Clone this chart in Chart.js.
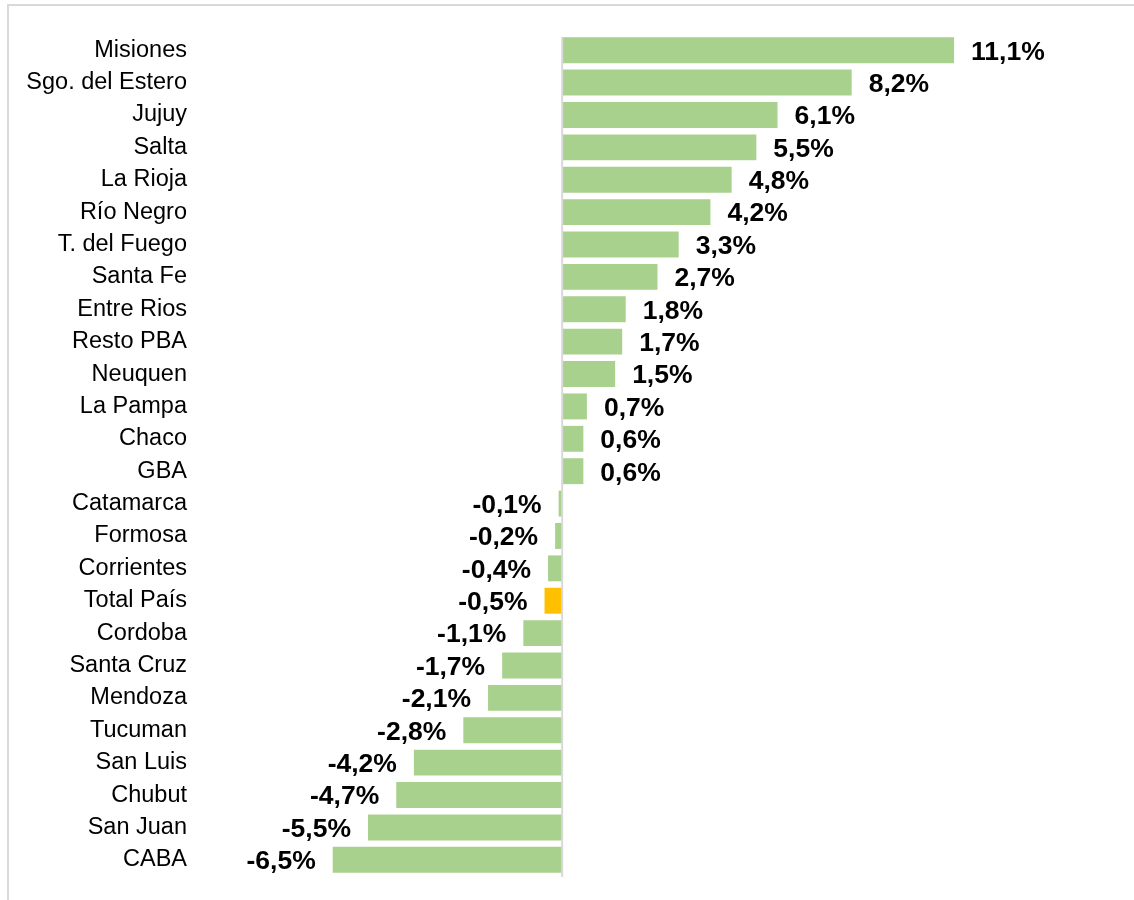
<!DOCTYPE html>
<html>
<head>
<meta charset="utf-8">
<script src="https://cdn.jsdelivr.net/npm/chart.js@4.4.1/dist/chart.umd.min.js"></script>
<style>
  body { margin: 0; background: #fff; }
  #wrap { position: relative; width: 1134px; height: 900px; }
  #frame { position: absolute; left: 7px; top: 4px; right: 0; bottom: 0;
           border-top: 2px solid #d9d9d9; border-left: 2px solid #d9d9d9; pointer-events: none; }
</style>
</head>
<body>
<div id="wrap">
  <canvas id="myChart"></canvas>
  <div id="frame"></div>
</div>
<script>
const provincias = [
  'Misiones', 'Sgo. del Estero', 'Jujuy', 'Salta', 'La Rioja', 'Río Negro',
  'T. del Fuego', 'Santa Fe', 'Entre Rios', 'Resto PBA', 'Neuquen', 'La Pampa',
  'Chaco', 'GBA', 'Catamarca', 'Formosa', 'Corrientes', 'Total País',
  'Cordoba', 'Santa Cruz', 'Mendoza', 'Tucuman', 'San Luis', 'Chubut',
  'San Juan', 'CABA'
];
const variacion = [
  11.1, 8.2, 6.1, 5.5, 4.8, 4.2,
  3.3, 2.7, 1.8, 1.7, 1.5, 0.7,
  0.6, 0.6, -0.1, -0.2, -0.4, -0.5,
  -1.1, -1.7, -2.1, -2.8, -4.2, -4.7,
  -5.5, -6.5
];
const destacado = 'Total País';

const colores = provincias.map(p => p === destacado ? '#ffc000' : '#a9d18e');

// labels at the end of each bar, and the zero line
const valueLabels = {
  id: 'valueLabels',
  afterDatasetsDraw(chart) {
    const ctx = chart.ctx;
    const x = chart.scales.x;
    const area = chart.chartArea;
    const x0 = x.getPixelForValue(0);
    ctx.save();
    ctx.strokeStyle = '#d9d9d9';
    ctx.lineWidth = 2;
    ctx.beginPath();
    ctx.moveTo(x0, area.top + 3);
    ctx.lineTo(x0, area.bottom + 1);
    ctx.stroke();

    ctx.font = 'bold 26.5px "Liberation Sans", Arial, sans-serif';
    ctx.fillStyle = '#000';
    ctx.textBaseline = 'middle';
    chart.getDatasetMeta(0).data.forEach((bar, i) => {
      const v = variacion[i];
      const txt = v.toFixed(1).replace('.', ',') + '%';
      if (v >= 0) {
        ctx.textAlign = 'left';
        ctx.fillText(txt, bar.x + 17, bar.y + 2);
      } else {
        ctx.textAlign = 'right';
        ctx.fillText(txt, bar.x - 17, bar.y + 2);
      }
    });
    ctx.restore();
  }
};

const data = {
  labels: provincias,
  datasets: [{
    data: variacion,
    backgroundColor: colores,
    borderWidth: 0,
    barPercentage: 0.8,
    categoryPercentage: 1.0
  }]
};

const config = {
  type: 'bar',
  data: data,
  options: {
    indexAxis: 'y',
    responsive: true,
    maintainAspectRatio: false,
    animation: false,
    layout: {
      padding: { left: 0, right: 14, top: 34, bottom: 24 }
    },
    scales: {
      x: {
        display: false,
        min: -10.4,
        max: 15.8
      },
      y: {
        afterFit(scale) { scale.width = 195; },
        grid: { display: false, drawTicks: false },
        border: { display: false },
        ticks: {
          padding: 8,
          color: '#000',
          font: { family: '"Liberation Sans", Arial, sans-serif', size: 23.5 }
        }
      }
    },
    plugins: {
      legend: { display: false },
      tooltip: { enabled: false }
    }
  },
  plugins: [valueLabels]
};

new Chart(document.getElementById('myChart'), config);
</script>
</body>
</html>
